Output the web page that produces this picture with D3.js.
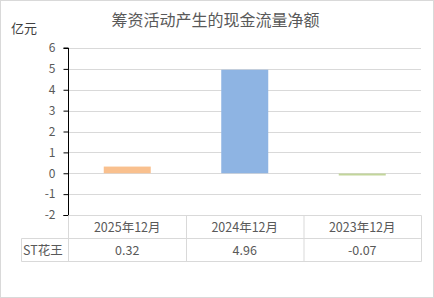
<!DOCTYPE html>
<html><head><meta charset="utf-8">
<script src="https://cdn.jsdelivr.net/npm/d3@7"></script>
<style>body{margin:0;background:#fff}svg{display:block}</style>
</head><body>
<script>
const categories = ["2025年12月", "2024年12月", "2023年12月"];
const seriesName = "ST花王";
const values = [0.32, 4.96, -0.07];
const colors = ["#f9c08e", "#8eb4e3", "#c3d69b"];
const yTicks = [-2, -1, 0, 1, 2, 3, 4, 5, 6];
const title = "筹资活动产生的现金流量净额";
const unit = "亿元";

const W = 434, H = 298;
const font = "'Noto Sans CJK SC','Noto Sans',sans-serif";
const svg = d3.select("body").append("svg").attr("width", W).attr("height", H);
svg.append("rect").attr("x",0.5).attr("y",0.5).attr("width",W-1).attr("height",H-1)
  .attr("fill","#fff").attr("stroke","#d9d9d9");

const x = d3.scaleBand().domain(categories).range([68.5, 421]).padding(0);
const y = d3.scaleLinear().domain([-2, 6]).range([215, 48]);

svg.append("text").attr("x",215.5).attr("y",26).attr("text-anchor","middle")
  .attr("font-family",font).attr("font-size",16).attr("fill","#595959").text(title);
svg.append("text").attr("x",11).attr("y",33)
  .attr("font-family",font).attr("font-size",13).attr("fill","#404040").text(unit);

// gridlines
svg.append("g").selectAll("line").data(yTicks).join("line")
  .attr("x1",69).attr("x2",421).attr("y1",d=>Math.round(y(d))+0.5).attr("y2",d=>Math.round(y(d))+0.5)
  .attr("stroke","#d9d9d9");

// bars
svg.append("g").selectAll("rect").data(values).join("rect")
  .attr("x",(d,i)=>x(categories[i]) + x.bandwidth()*0.3)
  .attr("width",x.bandwidth()*0.4)
  .attr("y",d=>d>=0 ? y(d) : Math.round(y(0))+0.5)
  .attr("height",d=>Math.max(2, Math.abs(y(d)-y(0))))
  .attr("fill",(d,i)=>colors[i]);

// y axis
const ax = svg.append("g").attr("transform","translate(68.5,0)")
  .call(d3.axisLeft(y).tickValues(yTicks).tickSize(5).tickPadding(8).tickFormat(d=>String(d)));
ax.select(".domain").attr("stroke","#000").attr("d","M-5,"+y(6)+"H0V"+(y(-2)+0.5)+"H-5");
ax.selectAll(".tick line").attr("stroke","#000");
ax.selectAll(".tick text").attr("font-family",font).attr("font-size",12).attr("fill","#595959");

// table
const tb = svg.append("g");
const rowY = [215.5, 238.5, 261.5];
const colX = [21.5, 68.5, x(categories[1])+0.5, x(categories[2])+0.5, 421.5];
const tc = "#d9d9d9";
tb.append("line").attr("x1",68.5).attr("x2",421.5).attr("y1",rowY[0]).attr("y2",rowY[0]).attr("stroke",tc);
tb.append("line").attr("x1",21.5).attr("x2",421.5).attr("y1",rowY[1]).attr("y2",rowY[1]).attr("stroke",tc);
tb.append("line").attr("x1",21.5).attr("x2",421.5).attr("y1",rowY[2]).attr("y2",rowY[2]).attr("stroke",tc);
tb.append("line").attr("x1",21.5).attr("x2",21.5).attr("y1",rowY[1]).attr("y2",rowY[2]).attr("stroke",tc);
colX.slice(1).forEach(cx=>{
  tb.append("line").attr("x1",cx).attr("x2",cx).attr("y1",rowY[0]).attr("y2",rowY[2]).attr("stroke",tc);
});
tb.selectAll("text.cat").data(categories).join("text").attr("class","cat")
  .attr("x",d=>x(d)+x.bandwidth()/2).attr("y",231.5).attr("text-anchor","middle")
  .attr("font-family",font).attr("font-size",12.5).attr("fill","#595959").text(d=>d);
tb.selectAll("text.val").data(values).join("text").attr("class","val")
  .attr("x",(d,i)=>x(categories[i])+x.bandwidth()/2).attr("y",254.5).attr("text-anchor","middle")
  .attr("font-family",font).attr("font-size",12.5).attr("fill","#595959").text(d=>d.toFixed(2));
tb.append("text").attr("x",23).attr("y",254.5)
  .attr("font-family",font).attr("font-size",12.5).attr("fill","#595959").text(seriesName);
</script>
</body></html>
